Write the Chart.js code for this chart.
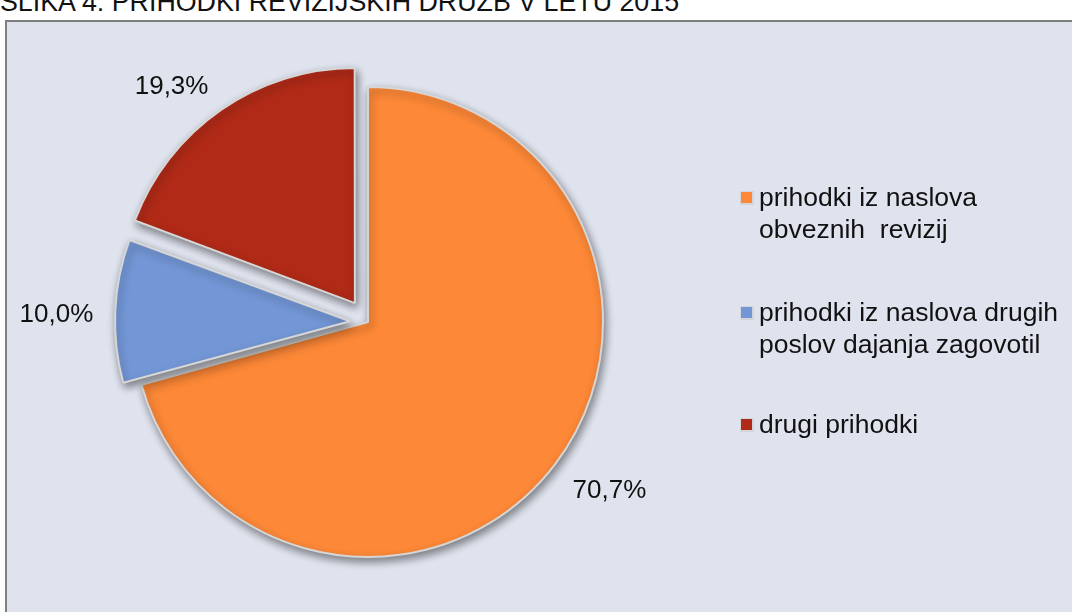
<!DOCTYPE html>
<html>
<head>
<meta charset="utf-8">
<script src="https://cdn.jsdelivr.net/npm/chart.js@4.4.1/dist/chart.umd.min.js"></script>
<style>
  body { margin: 0; background: #fff; width: 1072px; height: 612px; overflow: hidden; position: relative; font-family: "Liberation Sans", Arial, sans-serif; }
  #title { position: absolute; left: 0px; top: -13px; font-size: 26.8px; color: #111; white-space: nowrap; }
  #box { position: absolute; left: 5px; top: 20px; width: 1100px; height: 700px; border: 2px solid #7f7f7f; background: #dfe3ee; }
  #wrap { position: absolute; left: 0; top: 0; width: 1072px; height: 612px; }
</style>
</head>
<body>
<div id="title">SLIKA 4: PRIHODKI REVIZIJSKIH DRUŽB V LETU 2015</div>
<div id="box"></div>
<div id="wrap"><canvas id="theChart"></canvas></div>
<script>
// categories (legend text, split in lines like the original)
const labels1 = [
  ['prihodki iz naslova', 'obveznih  revizij'],
  ['prihodki iz naslova drugih', 'poslov dajanja zagovotil'],
  ['drugi prihodki']
];
// share of revenue, %
const values1 = [70.7, 10.0, 19.3];
const colors1 = ['#fd8837', '#7397d6', '#b02a17'];
const explode1 = [0, 18, 23]; // how far (px) each slice is pulled out

const RADIUS = 235;
const FONT = '"Liberation Sans", Arial, sans-serif';

// Chart.js moves an arc by offset/4 and also grows its radius a bit; undo the growth
const radiusFix = {
  id: 'radiusFix',
  beforeDatasetsDraw(chart) {
    chart.getDatasetMeta(0).data.forEach((arc, i) => {
      const off = explode1[i];
      const circ = arc.endAngle - arc.startAngle;
      const fix = 1 - Math.sin(Math.min(Math.PI, circ));
      arc.outerRadius = RADIUS - off * fix;
    });
  }
};

// soft drop shadow under the slices
const shadowPlugin = {
  id: 'shadow',
  beforeDatasetsDraw(chart) {
    const ctx = chart.ctx;
    ctx.save();
    ctx.shadowColor = 'rgba(0,0,0,0.45)';
    ctx.shadowBlur = 8;
    ctx.shadowOffsetX = 2;
    ctx.shadowOffsetY = 4;
  },
  afterDatasetsDraw(chart) {
    chart.ctx.restore();
  }
};

// percent labels outside the slices (outside end, corner touching the ray)
const pctPlugin = {
  id: 'pct',
  afterDatasetsDraw(chart) {
    const ctx = chart.ctx;
    const meta = chart.getDatasetMeta(0);
    ctx.save();
    ctx.font = '26px ' + FONT;
    ctx.fillStyle = '#111';
    meta.data.forEach((arc, i) => {
      const a = (arc.startAngle + arc.endAngle) / 2;
      const c = Math.cos(a), s = Math.sin(a);
      const d = RADIUS + explode1[i] + 22;
      const x = arc.x + c * d, y = arc.y + s * d;
      ctx.textAlign = c > 0.3 ? 'left' : (c < -0.3 ? 'right' : 'center');
      ctx.textBaseline = s > 0.3 ? 'top' : (s < -0.3 ? 'bottom' : 'middle');
      const dy = s > 0.3 ? 0 : (s < -0.3 ? 8 : 5);
      ctx.fillText(values1[i].toFixed(1).replace('.', ',') + '%', x, y + dy);
    });
    ctx.restore();
  }
};

// legend on the right, multi-line entries
const legendPlugin = {
  id: 'sideLegend',
  afterDraw(chart) {
    const ctx = chart.ctx;
    const rowsY = [198, 313, 425];
    ctx.save();
    ctx.font = '26.5px ' + FONT;
    ctx.textBaseline = 'middle';
    ctx.textAlign = 'left';
    labels1.forEach((lines, i) => {
      const y = rowsY[i];
      ctx.fillStyle = '#d3d5da';
      ctx.fillRect(740, y - 7, 14, 14);
      ctx.fillStyle = colors1[i];
      ctx.fillRect(741, y - 6, 11, 11);
      ctx.fillStyle = '#111';
      lines.forEach((t, j) => ctx.fillText(t, 759, y + 1 + j * 32));
    });
    ctx.restore();
  }
};

const cfg1 = {
  type: 'pie',
  data: {
    labels: labels1,
    datasets: [{
      data: values1,
      backgroundColor: colors1,
      borderColor: '#d6d6d6',
      borderWidth: 2,
      offset: explode1.map(v => v * 4),
      hoverOffset: 0
    }]
  },
  options: {
    responsive: true,
    maintainAspectRatio: false,
    animation: false,
    radius: RADIUS,
    layout: { padding: { left: 60, right: 396, top: 62, bottom: 30 } },
    plugins: {
      legend: { display: false },
      tooltip: { enabled: false }
    }
  },
  plugins: [radiusFix, shadowPlugin, pctPlugin, legendPlugin]
};

const myChart = new Chart(document.getElementById('theChart').getContext('2d'), cfg1);
</script>
</body>
</html>
